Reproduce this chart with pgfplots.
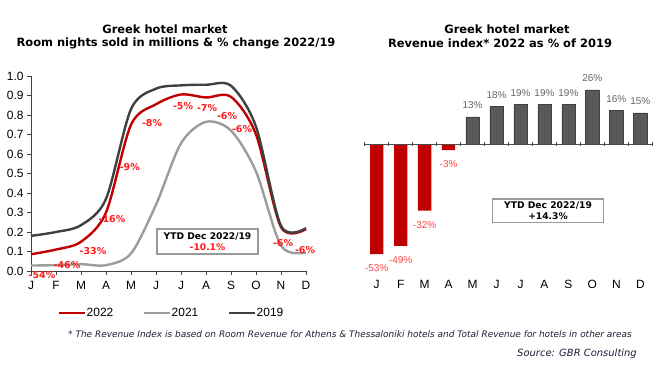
\documentclass[border=0pt]{standalone}
\usepackage{pgfplots}
\pgfplotsset{compat=1.18}
\usepackage{fontspec}
\setmainfont{Liberation Sans}
\newfontfamily\dvs{DejaVu Sans}
\definecolor{cRed}{HTML}{C00000}
\definecolor{cGray}{HTML}{9C9C9C}
\definecolor{cDark}{HTML}{404040}
\definecolor{lblRed}{HTML}{FF1A1A}
\definecolor{barRed}{HTML}{FF4545}
\definecolor{barGray}{HTML}{595959}
\definecolor{noteCol}{HTML}{1F1F3A}
\begin{document}
\begin{tikzpicture}
\path[use as bounding box, fill=white] (0bp,0bp) rectangle (660bp,367bp);
% titles
\node[font=\dvs\bfseries\fontsize{11.5}{13}\selectfont] at (165bp,338bp) {Greek hotel market};
\node[font=\dvs\bfseries\fontsize{11.5}{13}\selectfont] at (176bp,324bp) {Room nights sold in millions \& \% change 2022/19};
\node[font=\dvs\bfseries\fontsize{11.5}{13}\selectfont] at (507bp,338bp) {Greek hotel market};
\node[font=\dvs\bfseries\fontsize{11.5}{13}\selectfont] at (500bp,324bp) {Revenue index* 2022 as \% of 2019};

\begin{axis}[
  at={(31bp,96bp)}, anchor=south west, scale only axis,
  width=275bp, height=195bp,
  xmin=0, xmax=11, ymin=0, ymax=1,
  axis lines*=left,
  axis line style={black!75, line width=0.8pt},
  tick align=outside, major tick length=4bp,
  tick style={black!75, line width=0.6pt},
  xtick={0,...,11},
  xticklabels={J,F,M,A,M,J,J,A,S,O,N,D},
  ytick={0,0.1,...,1.0},
  /pgf/number format/assume math mode=true,
  yticklabel style={/pgf/number format/.cd, fixed, fixed zerofill, precision=1},
  ticklabel style={font=\fontsize{12}{14}\selectfont},
  xticklabel style={yshift=-3bp},
  clip=false,
  legend style={at={(0.095,-0.214)}, anchor=west, draw=none, fill=none,
    legend columns=3, font=\fontsize{12}{14}\selectfont,
    /tikz/every even column/.append style={column sep=28bp},
    inner sep=0pt, nodes={inner sep=1bp}},
  legend image code/.code={\draw[#1] (0bp,0bp) -- (26bp,0bp);},
]
\addplot[cRed, line width=2.4bp, smooth] coordinates {
(0,0.086) (1,0.11) (2,0.15) (3,0.30) (4,0.75) (5,0.855) (6,0.905) (7,0.89) (8,0.893) (9,0.70) (10,0.225) (11,0.215)};
\addlegendentry{2022}
\addplot[cGray, line width=2.4bp, smooth] coordinates {
(0,0.028) (1,0.03) (2,0.035) (3,0.03) (4,0.09) (5,0.34) (6,0.655) (7,0.765) (8,0.72) (9,0.51) (10,0.13) (11,0.095)};
\addlegendentry{2021}
\addplot[cDark, line width=2.4bp, smooth] coordinates {
(0,0.18) (1,0.20) (2,0.235) (3,0.37) (4,0.83) (5,0.935) (6,0.952) (7,0.955) (8,0.95) (9,0.74) (10,0.232) (11,0.22)};
\addlegendentry{2019}
\begin{scope}[every node/.style={font=\dvs\bfseries\fontsize{9.5}{11}\selectfont, text=lblRed, inner sep=0pt}]
\node at (axis cs:0.44,-0.02) {-54\%};
\node at (axis cs:1.44,0.031) {-46\%};
\node at (axis cs:2.48,0.10) {-33\%};
\node at (axis cs:3.24,0.267) {-16\%};
\node at (axis cs:3.95,0.533) {-9\%};
\node at (axis cs:4.84,0.759) {-8\%};
\node at (axis cs:6.08,0.846) {-5\%};
\node at (axis cs:7.04,0.836) {-7\%};
\node at (axis cs:7.84,0.795) {-6\%};
\node at (axis cs:8.44,0.728) {-6\%};
\node at (axis cs:10.08,0.144) {-6\%};
\node at (axis cs:10.96,0.108) {-6\%};
\end{scope}
\end{axis}

% YTD box left
\node[draw=black!40, line width=1.3bp, fill=white, minimum width=101bp, minimum height=25bp, inner sep=0pt, align=center,
  font=\dvs\bfseries\fontsize{9.2}{11}\selectfont] at (207.5bp,125.5bp)
  {YTD Dec 2022/19\\\textcolor{lblRed}{-10.1\%}};

\begin{axis}[
  at={(364.7bp,98.2bp)}, anchor=south west, scale only axis,
  width=287.6bp, height=187.2bp,
  xmin=-0.5, xmax=11.5, ymin=-60, ymax=30,
  axis line style={draw=none},
  xtick={0,...,11},
  xticklabels={J,F,M,A,M,J,J,A,S,O,N,D},
  xtick style={draw=none},
  ytick=\empty,
  xticklabel style={font=\fontsize{12}{14}\selectfont, yshift=-8bp},
  /pgf/number format/assume math mode=true,
  clip=false,
]
\addplot[ybar, bar width=13.3bp, bar shift=0pt, fill=cRed, draw=none,
  nodes near coords={\pgfmathprintnumber{\pgfplotspointmeta}\%},
  every node near coord/.append style={font=\fontsize{10}{12}\selectfont, text=barRed, inner sep=2.5bp, yshift=-8bp}]
  coordinates {(0,-53) (1,-49) (2,-32) (3,-3)};
\addplot[ybar, bar width=13.3bp, bar shift=0pt, fill=barGray, draw=black!75, line width=0.5pt,
  nodes near coords={\pgfmathprintnumber{\pgfplotspointmeta}\%},
  every node near coord/.append style={font=\fontsize{10}{12}\selectfont, text=black!60, inner sep=4bp, yshift=4bp}]
  coordinates {(4,13) (5,18) (6,19) (7,19) (8,19) (9,26) (10,16) (11,15)};
\draw[black!70, line width=0.8pt] (axis cs:-0.5,0) -- (axis cs:11.5,0);
\pgfplotsinvokeforeach{-0.5,0.5,1.5,2.5,3.5,4.5,5.5,6.5,7.5,8.5,9.5,10.5,11.5}{
  \draw[black!70, line width=0.6pt] ([yshift=2bp]axis cs:#1,0) -- ([yshift=-2bp]axis cs:#1,0);
}
\end{axis}

% YTD box right
\node[draw=black!40, line width=1.3bp, fill=white, minimum width=110.6bp, minimum height=23.3bp, inner sep=0pt, align=center,
  font=\dvs\bfseries\fontsize{9.2}{11}\selectfont] at (548bp,156.3bp)
  {YTD Dec 2022/19\\+14.3\%};

% footnote and source
\node[anchor=west, inner sep=0pt, text=noteCol, font=\dvs\itshape\fontsize{9}{11}\selectfont] at (68bp,33bp)
  {* The Revenue Index is based on Room Revenue for Athens \& Thessaloniki hotels and Total Revenue for hotels in other areas};
\node[anchor=east, inner sep=0pt, text=noteCol, font=\dvs\itshape\fontsize{10}{12}\selectfont] at (637bp,13bp)
  {Source: GBR Consulting};
\end{tikzpicture}
\end{document}
